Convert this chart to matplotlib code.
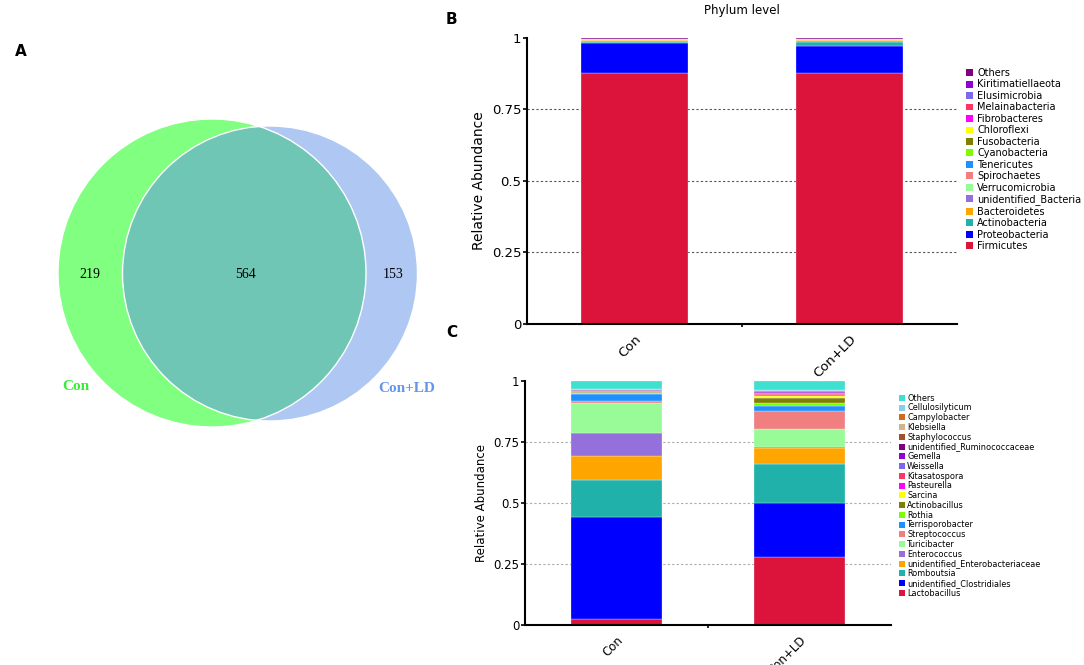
import matplotlib
matplotlib.use("Agg")
import matplotlib.pyplot as plt
from matplotlib.patches import Circle, Patch
import numpy as np

# ---- data ----
groups = ["Con", "Con+LD"]

venn_labels = ["Con", "Con+LD"]
venn_counts = [219, 564, 153]  # only Con, shared, only Con+LD

phyla = ["Firmicutes", "Proteobacteria", "Actinobacteria", "Bacteroidetes",
         "unidentified_Bacteria", "Verrucomicrobia", "Spirochaetes", "Tenericutes",
         "Cyanobacteria", "Fusobacteria", "Chloroflexi", "Fibrobacteres",
         "Melainabacteria", "Elusimicrobia", "Kiritimatiellaeota", "Others"]
phylum_con = [0.877, 0.107, 0.002, 0.006, 0.001, 0.001, 0.0005, 0.001,
              0.0003, 0.0003, 0.0003, 0.0002, 0.0002, 0.0002, 0.0003, 0.0027]
phylum_ld = [0.877, 0.095, 0.014, 0.006, 0.001, 0.001, 0.0005, 0.001,
             0.0003, 0.0003, 0.0003, 0.0002, 0.0002, 0.0002, 0.0003, 0.0027]

genera = ["Lactobacillus", "unidentified_Clostridiales", "Romboutsia",
          "unidentified_Enterobacteriaceae", "Enterococcus", "Turicibacter",
          "Streptococcus", "Terrisporobacter", "Rothia", "Actinobacillus",
          "Sarcina", "Pasteurella", "Kitasatospora", "Weissella", "Gemella",
          "unidentified_Ruminococcaceae", "Staphylococcus", "Klebsiella",
          "Campylobacter", "Cellulosilyticum", "Others"]
genus_con = [0.023, 0.421, 0.150, 0.100, 0.092, 0.124, 0.008, 0.030, 0.001,
             0.004, 0.001, 0.001, 0.002, 0.001, 0.001, 0.004, 0.001, 0.0005,
             0.0005, 0.001, 0.034]
genus_ld = [0.279, 0.220, 0.160, 0.068, 0.003, 0.073, 0.075, 0.021, 0.012,
            0.020, 0.006, 0.007, 0.004, 0.003, 0.004, 0.003, 0.001, 0.001,
            0.001, 0.001, 0.038]

palette = ["#DC143C", "#0000FF", "#20B2AA", "#FFA500", "#9370DB", "#98FB98",
           "#F08080", "#1E90FF", "#7CFC00", "#808000", "#FFFF00", "#FF00FF",
           "#FF3366", "#7B68EE", "#9400D3", "#800080", "#A0522D", "#D2B48C",
           "#D2691E", "#87CEEB", "#40E0D0"]
phylum_colors = palette[:15] + ["#800080"]
genus_colors = palette[:20] + ["#40E0D0"]

W, H = 1084, 665
fig = plt.figure(figsize=(W / 100, H / 100), dpi=100)

# ---- A: venn ----
axv = fig.add_axes([0, 0, 1, 1])
axv.set_xlim(0, W)
axv.set_ylim(H, 0)
axv.axis("off")
c1 = Circle((212, 273), 154, facecolor="#80FF80", edgecolor="none")
c2 = Circle((270, 273.5), 147.5, facecolor="#AFC7F3", edgecolor="none")
axv.add_patch(c1)
axv.add_patch(c2)
c3 = Circle((270, 273.5), 147.5, facecolor="#70C6B4", edgecolor="none")
axv.add_patch(c3)
c3.set_clip_path(c1)
axv.add_patch(Circle((212, 273), 154, fill=False, edgecolor="white", lw=1))
axv.add_patch(Circle((270, 273.5), 147.5, fill=False, edgecolor="white", lw=1))
for x, n in zip([90, 245, 393], venn_counts):
    axv.text(x, 274, str(n), ha="center", va="center", fontsize=10,
             family="Liberation Serif")
axv.text(76, 386, venn_labels[0], ha="center", va="center", fontsize=11,
         fontweight="bold", color="#33EE33", family="Liberation Serif")
axv.text(407, 388, venn_labels[1], ha="center", va="center", fontsize=11,
         fontweight="bold", color="#6495ED", family="Liberation Serif")

fig.text(15 / W, 1 - 52 / H, "A", fontsize=11, fontweight="bold", ha="left", va="center")
fig.text(446 / W, 1 - 19 / H, "B", fontsize=11, fontweight="bold", ha="left", va="center")
fig.text(446 / W, 1 - 332 / H, "C", fontsize=11, fontweight="bold", ha="left", va="center")


def stacked(ax, names, vals_a, vals_b, colors, tick_fs, grid_color):
    x = np.arange(len(groups))
    bottom = np.zeros(len(groups))
    handles = []
    for name, a, b, col in zip(names, vals_a, vals_b, colors):
        v = np.array([a, b])
        ax.bar(x, v, 0.5, bottom=bottom, color=col, edgecolor="white",
               linewidth=0.2, zorder=2)
        bottom += v
        handles.append(Patch(facecolor=col, edgecolor="none", label=name))
    ax.set_xlim(-0.5, 1.5)
    ax.set_ylim(0, 1)
    ax.set_yticks([0, 0.25, 0.5, 0.75, 1])
    ax.set_yticklabels(["0", "0.25", "0.5", "0.75", "1"], fontsize=tick_fs)
    for yv in [0.25, 0.5, 0.75]:
        ax.axhline(yv, color=grid_color, ls=(0, (2, 2)), lw=0.8, zorder=1)
    ax.set_xticks(x)
    ax.set_xticklabels(groups, rotation=45, ha="right", rotation_mode="anchor",
                       fontsize=tick_fs)
    ax.tick_params(axis="x", length=0, pad=6)
    ax.set_xticks([0.5], minor=True)
    ax.tick_params(axis="x", which="minor", length=2, width=1.2)
    ax.tick_params(axis="y", length=3, width=1.2, pad=1)
    for s in ["top", "right"]:
        ax.spines[s].set_visible(False)
    for s in ["left", "bottom"]:
        ax.spines[s].set_linewidth(1.5)
    return handles[::-1]


# ---- B: phylum ----
axb = fig.add_axes([527 / W, 1 - 324 / H, (957 - 527) / W, (324 - 38) / H])
hb = stacked(axb, phyla, phylum_con, phylum_ld, phylum_colors, 9.5, "#555555")
axb.set_ylabel("Relative Abundance", fontsize=10)
axb.set_title("Phylum level", fontsize=8.5, pad=17)
fig.legend(handles=hb, loc="upper left", bbox_to_anchor=(964 / W, 1 - 66 / H),
           frameon=False, fontsize=7, handlelength=0.72, handleheight=0.72,
           handletextpad=0.45, labelspacing=0.153, borderpad=0.2, borderaxespad=0)

# ---- C: genus ----
axc = fig.add_axes([525 / W, 1 - 625 / H, (891 - 525) / W, (625 - 381) / H])
hc = stacked(axc, genera, genus_con, genus_ld, genus_colors, 8.5, "#AAAAAA")
axc.set_ylabel("Relative Abundance", fontsize=8.5)
fig.legend(handles=hc, loc="upper left", bbox_to_anchor=(897 / W, 1 - 392 / H),
           frameon=False, fontsize=5.85, handlelength=0.75, handleheight=0.75,
           handletextpad=0.3, labelspacing=0.093, borderpad=0.2, borderaxespad=0)

fig.savefig("out.png", dpi=100)
